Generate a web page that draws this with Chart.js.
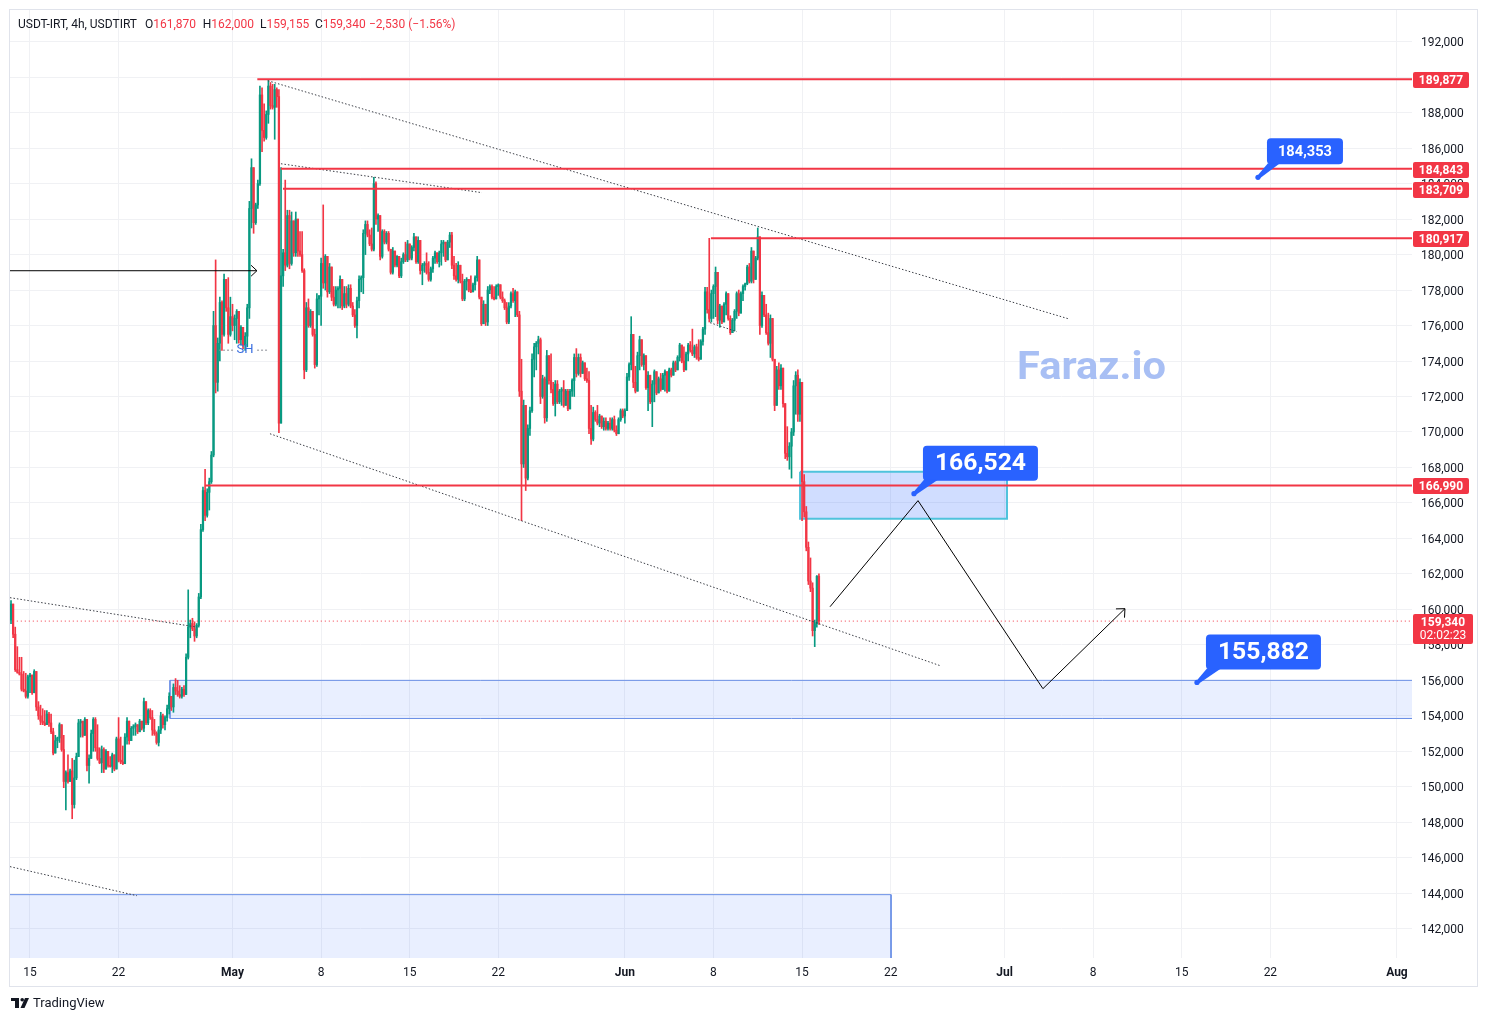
<!DOCTYPE html>
<html><head><meta charset="utf-8">
<script src="https://cdn.jsdelivr.net/npm/chart.js@4.4.1/dist/chart.umd.min.js"></script>
<style>html,body{margin:0;padding:0;background:#fff;}#wrap{position:relative;width:1487px;height:1021px;}canvas{display:block;}</style>
</head><body><div id="wrap"><canvas id="c" width="1487" height="1021"></canvas></div>
<script>
const FONT = "Roboto, 'Noto Sans', sans-serif";
// 4h candles, time in days since Apr 1 (day 14 = Apr 15)
const T0 = 12.5, STEP = 1 / 6;
const firstOpen = 159.4;
// prices in thousands (IRT)
const highs = [
160.5,160.3,159.0,157.9,157.3,157.3,156.5,156.4,156.3,156.4,156.3,156.6,156.5,154.8,154.6,154.4,154.3,154.3,154.2,154.1,153.3,152.9,152.8,153.6,153.5,152.9,150.9,151.8,151.0,151.6,151.5,151.9,153.8,153.8,153.7,153.9,153.8,151.8,153.2,153.9,153.9,153.5,152.2,152.3,152.2,152.1,152.0,151.7,151.9,151.8,152.8,153.9,152.8,152.3,153.0,153.9,153.7,153.4,153.5,153.6,153.5,153.8,153.7,155.0,154.8,154.4,154.4,154.3,153.8,153.1,
153.4,154.2,154.1,154.0,154.6,155.3,155.1,155.8,156.1,156.0,155.7,155.6,155.7,157.5,161.1,159.4,159.5,159.3,159.2,160.9,164.8,166.9,167.9,166.8,167.4,168.9,
176.8,179.7,175.3,177.6,177.4,178.9,178.5,178.7,177.6,177.2,176.6,176.9,176.8,176.0,175.9,175.6,177.2,183.0,185.4,184.5,182.9,184.2,189.5,189.4,188.5,188.1,189.88,189.7,189.6,189.6,189.4,189.3,
184.9,180.3,184.2,182.5,182.5,182.4,181.9,182.4,182.0,181.3,181.3,179.2,177.3,177.5,176.9,176.8,175.8,177.8,177.7,179.8,182.8,180.0,179.9,179.5,179.3,178.2,178.2,178.2,178.8,178.6,178.2,178.2,178.3,178.3,177.3,176.9,177.6,178.8,178.8,181.4,181.9,181.9,181.4,181.5,184.35,184.1,182.3,182.2,181.4,181.4,181.3,181.3,180.3,180.4,180.2,179.95,179.9,179.8,180.1,180.7,180.8,180.6,180.5,181.2,181.0,181.0,
180.8,179.5,179.6,180.1,179.6,179.3,179.9,180.2,180.1,180.2,180.8,180.8,180.6,180.8,181.25,181.25,179.9,179.5,179.6,179.0,178.9,178.6,178.7,178.6,178.8,178.4,178.8,179.9,179.7,177.6,177.4,177.2,178.2,178.3,178.3,178.2,178.3,178.35,178.3,177.9,177.5,177.3,177.3,177.9,178.1,178.0,177.9,176.8,174.1,171.8,171.5,170.4,171.4,174.4,175.0,175.1,175.4,
175.3,173.2,173.1,174.6,174.3,174.4,172.8,172.9,172.9,172.4,172.5,172.9,172.4,172.4,172.4,173.0,174.4,174.7,174.4,174.4,174.0,173.9,173.6,173.4,171.5,171.4,171.2,171.5,171.0,170.9,170.8,170.8,170.6,170.8,170.8,170.9,170.35,170.8,171.3,171.3,171.3,173.3,173.9,176.5,175.5,173.7,174.5,175.4,175.2,174.4,174.3,173.4,173.0,172.9,173.5,173.4,173.1,173.3,173.3,173.5,173.2,173.6,173.6,174.0,174.0,174.3,175.0,174.9,174.8,174.5,175.0,
175.1,175.8,174.9,174.95,175.2,175.2,175.9,178.15,178.15,180.917,178.0,178.3,179.3,179.0,177.2,177.1,177.3,177.9,177.8,176.55,176.4,176.9,177.9,178.0,177.9,178.3,178.4,179.4,179.5,180.4,180.2,179.9,181.5,181.0,177.9,177.7,177.2,176.7,176.6,176.4,174.1,173.7,173.9,173.8,173.6,171.6,170.3,169.4,170.2,172.9,173.4,173.5,173.0,172.8,167.6,165.8,163.8,162.9,161.5,159.4,161.9,162.0
];
const lows = [
159.2,158.4,156.5,156.4,156.3,155.4,155.35,155.0,155.0,155.3,155.2,155.3,154.3,153.8,153.5,153.5,153.45,153.5,153.4,153.0,151.8,151.9,152.2,152.5,152.0,149.95,148.7,150.2,150.3,148.2,148.8,150.4,151.7,152.8,152.8,152.9,150.9,150.2,151.6,152.0,152.0,151.5,151.3,150.8,150.8,151.0,151.1,151.1,150.8,150.9,151.0,151.4,151.3,151.25,151.3,152.4,152.4,152.6,152.9,152.9,153.0,153.1,153.2,153.1,153.5,153.5,153.8,152.9,152.9,152.4,
152.3,153.0,153.3,153.2,153.7,154.1,154.3,154.2,155.2,155.1,155.0,155.0,155.1,155.2,157.2,158.4,158.8,158.2,158.4,159.0,160.6,164.4,165.0,165.2,165.6,167.1,
168.6,172.2,172.3,174.0,174.6,175.4,176.8,175.0,175.4,175.7,175.2,175.0,175.0,174.9,174.7,174.6,174.8,176.4,181.5,181.2,181.7,182.6,183.9,185.8,186.4,186.5,187.4,188.2,188.2,186.5,188.3,169.96,
170.5,178.2,179.1,179.3,179.2,179.4,179.9,179.9,179.9,179.9,179.0,173.0,173.4,175.9,175.9,175.4,173.6,173.7,176.6,176.0,178.1,178.0,177.6,177.8,177.4,177.1,177.1,177.0,177.0,176.9,177.0,177.0,177.1,177.0,176.5,175.9,175.3,177.0,177.9,177.8,180.0,181.0,180.5,180.2,180.2,181.7,181.3,179.7,179.8,180.6,180.6,180.2,178.9,178.9,179.3,179.3,178.7,178.7,179.5,179.6,179.6,179.7,179.7,180.2,179.5,179.5,
178.9,178.3,179.0,178.9,178.5,178.5,179.0,179.5,179.5,179.3,179.4,179.9,179.6,179.7,180.4,179.2,178.6,178.5,178.4,178.4,177.4,177.4,178.0,177.9,177.85,177.9,178.0,178.5,177.5,176.0,176.1,176.0,176.0,177.8,177.5,177.45,177.5,177.7,177.5,177.3,176.9,176.1,176.1,177.0,177.3,176.5,176.5,172.0,165.0,168.0,166.7,167.3,169.8,171.1,173.1,173.5,174.4,
171.6,171.9,170.5,170.6,172.7,172.2,171.5,170.9,171.6,171.6,171.5,171.4,171.5,171.2,171.3,172.0,172.0,173.1,173.2,173.1,173.3,172.9,172.8,169.9,169.3,169.5,170.6,170.4,170.3,170.2,170.1,170.1,170.1,170.1,170.1,170.0,169.8,169.9,170.6,170.8,170.5,171.2,172.9,173.5,172.5,172.2,172.3,173.5,173.7,173.5,172.4,171.2,171.6,170.3,171.7,172.1,172.2,172.3,172.4,172.3,172.2,172.3,173.1,173.2,173.4,173.5,174.0,173.9,173.4,173.5,174.0,
174.5,174.3,174.2,174.1,174.0,174.1,174.9,175.5,176.7,176.2,176.2,176.4,176.5,176.1,175.9,176.1,176.2,176.6,176.3,175.5,175.6,175.7,176.4,176.55,176.8,177.4,178.0,178.3,178.4,178.4,178.4,178.6,179.7,175.5,175.9,176.5,175.5,174.9,174.2,174.0,171.2,171.5,172.4,172.4,171.4,168.5,168.4,167.9,167.4,169.8,171.0,170.6,170.6,165.0,165.2,163.3,161.4,161.0,158.5,157.9,159.0,159.155
];
const closes = [
160.3,158.6,156.6,156.45,156.35,155.5,155.4,155.1,156.2,156.3,155.3,156.5,154.5,154.0,153.7,153.6,153.5,154.1,153.6,153.1,151.9,152.6,152.75,153.5,152.1,150.3,150.8,150.3,150.9,149.0,150.5,151.7,153.6,153.7,152.9,153.8,151.2,151.6,153.0,153.8,152.2,151.6,151.35,152.1,151.0,152.0,151.2,151.15,151.8,151.0,152.7,151.5,151.4,151.3,152.8,153.7,152.6,153.3,153.4,153.5,153.1,153.7,153.3,154.8,153.6,154.3,153.9,153.2,153.0,152.5,
153.2,154.0,153.5,153.9,154.4,155.1,154.5,155.6,155.4,155.2,155.1,155.5,155.2,157.3,159.0,159.2,158.9,158.5,159.1,160.7,164.5,166.7,165.3,166.6,167.2,168.7,
176.0,172.8,175.0,177.3,175.5,178.6,177.0,175.5,176.5,176.0,176.4,176.8,175.2,175.9,174.9,175.4,177.0,182.6,184.9,181.8,182.8,184.0,189.0,187.0,186.6,187.9,189.5,188.4,188.3,189.3,188.9,170.5,
178.8,180.1,179.4,182.2,179.5,181.9,180.1,182.0,180.2,180.0,179.1,173.5,177.0,176.0,176.8,175.5,173.8,177.5,177.65,179.5,178.4,179.9,177.9,179.3,177.6,177.2,178.0,178.1,178.6,177.1,177.8,177.2,178.1,177.1,176.6,176.0,177.4,178.6,178.7,181.2,181.7,181.1,180.6,180.3,184.0,182.0,182.2,179.9,181.3,180.7,181.2,180.3,179.0,180.2,179.4,179.9,178.8,179.6,180.0,179.7,180.6,179.8,180.4,181.0,179.6,180.8,
179.1,179.4,179.5,179.0,178.6,179.2,179.8,180.1,179.6,180.1,180.6,180.7,179.7,180.7,181.1,179.4,178.8,178.6,179.4,178.5,177.5,178.5,178.6,178.0,177.9,178.3,178.7,179.7,177.6,176.1,177.2,176.2,178.0,178.2,177.6,177.5,178.2,178.3,177.6,177.4,177.0,176.2,177.1,177.8,177.4,177.9,176.6,172.3,168.2,171.5,167.4,170.2,171.2,174.1,174.8,175.0,175.2,
172.0,173.0,170.8,174.3,172.9,172.4,171.6,172.7,171.7,172.3,172.4,171.5,172.3,171.3,172.3,172.9,174.2,173.3,174.2,173.3,173.9,173.0,172.9,170.2,169.6,171.1,170.7,170.5,170.9,170.3,170.6,170.2,170.5,170.2,170.7,170.1,169.9,170.7,171.2,170.9,171.2,173.1,173.8,175.5,172.8,172.3,174.3,175.2,173.8,174.3,172.5,173.2,171.7,172.7,173.4,172.2,173.0,172.4,173.2,173.4,172.3,173.5,173.2,173.9,173.5,174.2,174.9,174.0,173.5,174.4,174.9,
174.6,174.4,174.8,174.2,174.1,175.1,175.8,177.9,176.9,176.4,177.8,178.2,179.0,176.3,177.1,176.2,177.2,177.8,176.4,175.6,176.3,176.8,177.8,176.7,177.8,178.2,178.35,179.3,178.5,180.2,178.6,179.8,181.0,176.0,177.7,176.6,175.6,175.0,176.4,174.1,171.5,173.5,172.6,173.6,171.6,168.8,168.6,169.2,170.0,172.6,173.2,171.0,172.8,167.2,165.5,163.5,161.6,161.2,158.8,159.2,161.87,159.34
];
const tickDays = [14,21,30,37,44,51,61,68,75,82,91,98,105,112,122];
const tickLabels = ['15','22','May','8','15','22','Jun','8','15','22','Jul','8','15','22','Aug'];
const monthLabels = ['May','Jun','Jul','Aug'];
const priceTicks = [142000,144000,146000,148000,150000,152000,154000,156000,158000,160000,162000,164000,166000,168000,170000,172000,174000,176000,178000,180000,182000,184000,186000,188000,190000,192000];
const levelPrices = [189877,184843,183709,180917,166990];
const levelStarts = [31.96,33.83,33.99,67.80,27.85];
const lastPrice = 159340, countdown = '02:02:23';
const hdrSymbol = 'USDT-IRT, 4h, USDTIRT';
const hdrValues = [['O','161,870'],['H','162,000'],['L','159,155'],['C','159,340']];
const hdrChange = '\u22122,530 (\u22121.56%)';
// dotted trend lines [t1, p1, t2, p2]
const trendLines = [[32.8,189800,96.0,176390],[33.83,185120,49.71,183490],[32.96,169900,85.9,156830],[12.42,160660,27.2,159000],[12.42,145500,22.45,143860],[67.73,176160,69.86,175650]];
const markerArrow = [[12.42,179090],[31.93,179090]];
const projection = [[77.21,160150],[84.16,166130],[94.03,155530],[100.51,160040]];
// zones [t1, t2, pTop, pBottom]
const zoneUpper = [74.84,91.19,167760,165110];
const zoneLower = [25.06,125,156000,153850];
const zoneBottom = [11,82.03,143920,138000];
const callouts = [[83.84,166524,'166,524',1],[106.2,155882,'155,882',1],[111.02,184353,'184,353',0]];
const shLabel = [30.99,174640];
const watermark = [91.98,173500,'Faraz.io'];

const UP = '#089981', DN = '#F23645', RED = '#F23645', BLUE = '#2962FF';
const times = closes.map((_, i) => T0 + i * STEP);
const opens = closes.map((c, i) => i === 0 ? firstOpen : closes[i - 1]);
const candleColors = closes.map((c, i) => c >= opens[i] ? UP : DN);
const wickData = closes.map((c, i) => ({x: times[i], y: [Math.min(lows[i], opens[i], c) * 1000, Math.max(highs[i], opens[i], c) * 1000]}));
const bodyData = closes.map((c, i) => ({x: times[i], y: [opens[i] * 1000, c * 1000]}));

function lineDS(points, color, width, dash, order, extra) {
  return Object.assign({type: 'line', data: points.map(p => ({x: p[0], y: p[1]})), borderColor: color, borderWidth: width,
    borderDash: dash || [], pointRadius: 0, pointHoverRadius: 0, fill: false, tension: 0, order: order}, extra || {});
}
const datasets = [];
function zone(z, fillC, borderC, bw, edges) {
  datasets.push(lineDS([[z[0], z[2]], [z[1], z[2]]], 'rgba(0,0,0,0)', 0, null, 20, {fill: {value: z[3]}, backgroundColor: fillC}));
  datasets.push(lineDS(edges, borderC, bw, null, 19));
}
zone(zoneLower, 'rgba(41,98,255,0.1)', '#6a8fe6', 1, [[zoneLower[1], zoneLower[2]], [zoneLower[0], zoneLower[2]], [zoneLower[0], zoneLower[3]], [zoneLower[1], zoneLower[3]]]);
zone(zoneBottom, 'rgba(41,98,255,0.1)', '#6a8fe6', 1, [[zoneBottom[0], zoneBottom[2]], [zoneBottom[1], zoneBottom[2]], [zoneBottom[1], zoneBottom[3]]]);
zone(zoneUpper, 'rgba(41,98,255,0.22)', '#4fc3dc', 2, [[zoneUpper[0], zoneUpper[2]], [zoneUpper[1], zoneUpper[2]], [zoneUpper[1], zoneUpper[3]], [zoneUpper[0], zoneUpper[3]], [zoneUpper[0], zoneUpper[2]]]);
datasets.push({type: 'bar', data: wickData, backgroundColor: candleColors, barThickness: 1, grouped: false, order: 11, borderWidth: 0, minBarLength: 1});
datasets.push({type: 'bar', data: bodyData, backgroundColor: candleColors, barThickness: 1.6, grouped: false, order: 10, borderWidth: 0, minBarLength: 1});
datasets.push(lineDS([[0, lastPrice], [130, lastPrice]], RED, 1, [1, 3], 5));
trendLines.forEach(t => datasets.push(lineDS([[t[0], t[1]], [t[2], t[3]]], '#3a3d45', 1, [1.5, 2], 4)));
levelPrices.forEach((p, i) => datasets.push(lineDS([[levelStarts[i], p], [130, p]], RED, 2, null, 3)));
datasets.push(lineDS(markerArrow, '#000', 1, null, 2));
datasets.push(lineDS(projection, '#000', 1, null, 2));

function roundRect(ctx, x, y, w, h, r) {
  ctx.beginPath(); ctx.moveTo(x + r, y); ctx.lineTo(x + w - r, y); ctx.quadraticCurveTo(x + w, y, x + w, y + r);
  ctx.lineTo(x + w, y + h - r); ctx.quadraticCurveTo(x + w, y + h, x + w - r, y + h); ctx.lineTo(x + r, y + h);
  ctx.quadraticCurveTo(x, y + h, x, y + h - r); ctx.lineTo(x, y + r); ctx.quadraticCurveTo(x, y, x + r, y); ctx.closePath();
}
function arrowHead(ctx, x1, y1, x2, y2, len) {
  const a = Math.atan2(y2 - y1, x2 - x1);
  ctx.beginPath();
  ctx.moveTo(x2 - len * Math.cos(a - 0.75), y2 - len * Math.sin(a - 0.75));
  ctx.lineTo(x2, y2);
  ctx.lineTo(x2 - len * Math.cos(a + 0.75), y2 - len * Math.sin(a + 0.75));
  ctx.stroke();
}
function fitText(ctx, text, x, y, target, align) {
  const w = ctx.measureText(text).width;
  const s = Math.max(0.8, Math.min(1.25, target / w));
  ctx.save(); ctx.translate(x, y); ctx.scale(s, 1); ctx.textAlign = align || 'left'; ctx.fillText(text, 0, 0); ctx.restore();
}

const overlay = {
  id: 'overlay',
  afterDatasetsDraw(chart) {
    const {ctx, chartArea: ca, scales: {x, y}} = chart;
    const X = t => x.getPixelForValue(t), Y = p => y.getPixelForValue(p);
    ctx.save();
    ctx.beginPath(); ctx.rect(ca.left, ca.top, ca.right - ca.left, ca.bottom - ca.top); ctx.clip();
    ctx.strokeStyle = '#000'; ctx.lineWidth = 1;
    arrowHead(ctx, X(markerArrow[0][0]), Y(markerArrow[0][1]), X(markerArrow[1][0]), Y(markerArrow[1][1]), 8);
    const pn = projection.length;
    arrowHead(ctx, X(projection[pn - 2][0]), Y(projection[pn - 2][1]), X(projection[pn - 1][0]), Y(projection[pn - 1][1]), 9);
    const sx = X(shLabel[0]), sy = Y(shLabel[1]);
    ctx.strokeStyle = '#8a8d96'; ctx.setLineDash([2, 2]);
    ctx.beginPath(); ctx.moveTo(sx - 26, sy + 0.5); ctx.lineTo(sx - 11, sy + 0.5); ctx.moveTo(sx + 12, sy + 0.5); ctx.lineTo(sx + 24, sy + 0.5); ctx.stroke();
    ctx.setLineDash([]);
    ctx.fillStyle = '#3b6fe0'; ctx.font = `13px ${FONT}`; ctx.textAlign = 'center'; ctx.textBaseline = 'middle';
    ctx.fillText('SH', sx, sy);
    ctx.fillStyle = '#a8bff4'; ctx.font = `bold 38px ${FONT}`; ctx.textBaseline = 'middle';
    fitText(ctx, watermark[2], X(watermark[0]), Y(watermark[1]), 149, 'left');
    callouts.forEach(c => {
      const ax = X(c[0]), ay = Y(c[1]), big = c[3] === 1;
      const w = big ? 115 : 76, h = big ? 35 : 26;
      const bx = ax + 9, by = ay - (big ? 48 : 39);
      ctx.fillStyle = BLUE;
      roundRect(ctx, bx, by, w, h, 4); ctx.fill();
      ctx.beginPath(); ctx.moveTo(bx + 1, by + h - 1); ctx.lineTo(bx + (big ? 15 : 13), by + h - 1); ctx.lineTo(ax + 2, ay + 1); ctx.lineTo(ax - 1, ay - 1); ctx.closePath(); ctx.fill();
      ctx.beginPath(); ctx.arc(ax, ay, 2.6, 0, Math.PI * 2); ctx.fill();
      ctx.fillStyle = '#fff'; ctx.font = `bold ${big ? 24 : 14}px ${FONT}`; ctx.textBaseline = 'middle';
      fitText(ctx, c[2], bx + w / 2, by + h / 2 + 1, big ? 91 : 54, 'center');
    });
    ctx.restore();
    ctx.save();
    ctx.font = `bold 12px ${FONT}`; ctx.textAlign = 'center'; ctx.textBaseline = 'middle';
    levelPrices.forEach(p => {
      const yy = Math.round(Y(p));
      ctx.fillStyle = RED; roundRect(ctx, 1413, yy - 7, 56, 16, 2); ctx.fill();
      ctx.fillStyle = '#fff'; ctx.fillText(p.toLocaleString('en-US'), 1441, yy + 1.5);
    });
    const ly = Math.round(Y(lastPrice));
    ctx.fillStyle = RED; roundRect(ctx, 1413, ly - 7, 60, 30, 2); ctx.fill();
    ctx.fillStyle = '#fff'; ctx.fillText(lastPrice.toLocaleString('en-US'), 1443, ly + 1.5);
    ctx.font = `12px ${FONT}`; ctx.fillText(countdown, 1443, ly + 15);
    ctx.restore();
  },
  afterDraw(chart) {
    const ctx = chart.ctx;
    ctx.save();
    ctx.strokeStyle = '#e0e3eb'; ctx.lineWidth = 1;
    ctx.strokeRect(9.5, 9.5, 1468, 977);
    ctx.font = `12px ${FONT}`; ctx.textBaseline = 'middle'; ctx.textAlign = 'left';
    ctx.fillStyle = '#131722'; ctx.fillText(hdrSymbol, 18, 25);
    const hx = [145, 202.7, 260, 315];
    hdrValues.forEach((v, i) => {
      ctx.fillStyle = '#131722'; ctx.fillText(v[0], hx[i], 25);
      const w = ctx.measureText(v[0]).width;
      ctx.fillStyle = RED; ctx.fillText(v[1], hx[i] + w, 25);
    });
    ctx.fillStyle = RED; ctx.fillText(hdrChange, 369, 25);
    ctx.fillStyle = '#131722';
    ctx.fillRect(11, 998, 8, 3); ctx.fillRect(15, 998, 4, 10);
    ctx.beginPath(); ctx.arc(22.2, 999.7, 1.8, 0, Math.PI * 2); ctx.fill();
    ctx.beginPath(); ctx.moveTo(25, 998); ctx.lineTo(29, 998); ctx.lineTo(24.5, 1008); ctx.lineTo(20.5, 1008); ctx.closePath(); ctx.fill();
    ctx.font = `13px ${FONT}`; ctx.fillText('TradingView', 33, 1003.5);
    ctx.restore();
  }
};

const gridColor = '#f0f1f4';
new Chart(document.getElementById('c'), {
  type: 'bar',
  data: {datasets},
  options: {
    responsive: false, animation: false, devicePixelRatio: 1, events: [],
    layout: {padding: {left: 10, top: 10, right: 10, bottom: 35}},
    plugins: {legend: {display: false}, tooltip: {enabled: false}},
    scales: {
      x: {type: 'linear', min: 12.42, max: 123.19, offset: false,
        grid: {offset: false, color: gridColor, drawTicks: false}, border: {display: false},
        afterBuildTicks: s => { s.ticks = tickDays.map(v => ({value: v})); },
        afterFit: s => { s.height = 28; s.paddingLeft = 0; s.paddingRight = 0; },
        ticks: {autoSkip: false, maxRotation: 0, padding: 8, color: '#131722',
          font: ctx => ({family: FONT, size: 12, weight: monthLabels.includes(tickLabels[tickDays.indexOf(ctx.tick && ctx.tick.value)]) ? 'bold' : 'normal'}),
          callback: v => { const i = tickDays.indexOf(v); return i >= 0 ? tickLabels[i] : ''; }}},
      y: {type: 'linear', position: 'right', min: 140349, max: 193787,
        grid: {color: gridColor, drawTicks: false}, border: {display: false},
        afterBuildTicks: s => { s.ticks = priceTicks.map(v => ({value: v})); },
        afterFit: s => { s.width = 65; s.paddingTop = 0; s.paddingBottom = 0; },
        ticks: {autoSkip: false, padding: 9, labelOffset: 1.5, color: '#131722', font: {family: FONT, size: 12},
          callback: v => v.toLocaleString('en-US')}}
    }
  },
  plugins: [overlay]
});
</script></body></html>
